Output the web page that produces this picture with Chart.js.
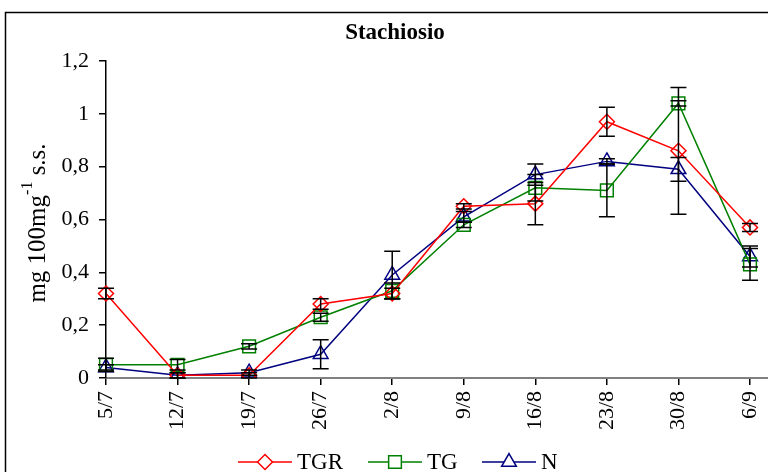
<!DOCTYPE html>
<html>
<head>
<meta charset="utf-8">
<script src="https://cdn.jsdelivr.net/npm/chart.js@4.4.1/dist/chart.umd.min.js"></script>
<style>
  html, body { margin: 0; padding: 0; background: #fff; }
  #wrap { position: relative; width: 768px; height: 472px; }
</style>
</head>
<body>
<div id="wrap"><canvas id="stachiosio" width="768" height="472"></canvas></div>
<script>
// date di campionamento
const labels = ['5/7', '12/7', '19/7', '26/7', '2/8', '9/8', '16/8', '23/8', '30/8', '6/9'];

// valori medi (mg 100mg-1 s.s.)
const tgr = [0.32, 0.01, 0.01, 0.28, 0.32, 0.65, 0.66, 0.97, 0.86, 0.57];
const tg  = [0.05, 0.05, 0.12, 0.23, 0.33, 0.58, 0.72, 0.71, 1.04, 0.43];
const n   = [0.04, 0.01, 0.02, 0.09, 0.39, 0.61, 0.77, 0.82, 0.79, 0.46];

// barre d'errore (+/-)
const tgrErr = [0.02, 0.01, 0.01, 0.02, 0.02, 0.01, 0.08, 0.055, 0.24, 0.015];
const tgErr  = [0.025, 0.02, 0.01, 0.015, 0.03, 0.01, 0.05, 0.10, 0.01, 0.06];
const nErr   = [0.01, 0.01, 0.01, 0.055, 0.09, 0.02, 0.04, 0.01, 0.045, 0.04];

const yTicks = [0, 0.2, 0.4, 0.6, 0.8, 1, 1.2];

const serif = '"Liberation Serif", "Times New Roman", serif';

// barre d'errore, cornice, titolo, legenda
const extras = {
    id: 'extras',
    beforeDraw(chart) {
        const c = chart.ctx;
        c.save();
        c.strokeStyle = '#000';
        c.lineWidth = 1.5;
        c.beginPath();
        c.moveTo(5.5, chart.height);
        c.lineTo(5.5, 12.5);
        c.lineTo(chart.width, 12.5);
        c.stroke();
        c.restore();
    },
    afterDatasetsDraw(chart) {
        const c = chart.ctx;
        const yScale = chart.scales.y;
        c.save();
        c.strokeStyle = '#000';
        c.lineWidth = 1.5;
        chart.data.datasets.forEach((ds, i) => {
            const meta = chart.getDatasetMeta(i);
            ds.errors.forEach((e, j) => {
                const x = meta.data[j].x;
                const top = yScale.getPixelForValue(ds.data[j] + e);
                const bot = yScale.getPixelForValue(ds.data[j] - e);
                c.beginPath();
                c.moveTo(x, top); c.lineTo(x, bot);
                c.moveTo(x - 8, top); c.lineTo(x + 8, top);
                c.moveTo(x - 8, bot); c.lineTo(x + 8, bot);
                c.stroke();
            });
        });
        c.restore();
    },
    afterDraw(chart) {
        const c = chart.ctx;
        const area = chart.chartArea;
        c.save();
        // prolungamento asse x
        c.strokeStyle = '#808080';
        c.lineWidth = 2;
        c.beginPath();
        c.moveTo(area.right, area.bottom);
        c.lineTo(chart.width, area.bottom);
        c.stroke();

        // titolo
        c.fillStyle = '#000';
        c.font = 'bold 23px ' + serif;
        c.textAlign = 'center';
        c.textBaseline = 'middle';
        c.fillText('Stachiosio', 395, 33);

        // titolo asse y con apice
        c.save();
        c.translate(38, 223);
        c.rotate(-Math.PI / 2);
        const a = 'mg 100mg', sup = '-1', b = ' s.s.';
        c.font = '25px ' + serif;
        const wa = c.measureText(a).width, wb = c.measureText(b).width;
        c.font = '16px ' + serif;
        const ws = c.measureText(sup).width;
        const x0 = -(wa + ws + wb) / 2;
        c.textAlign = 'left';
        c.font = '25px ' + serif;
        c.fillText(a, x0, 0);
        c.font = '16px ' + serif;
        c.fillText(sup, x0 + wa, -10);
        c.font = '25px ' + serif;
        c.fillText(b, x0 + wa + ws, 0);
        c.restore();

        // legenda
        const items = [
            { text: 'TGR', x: 238, ds: chart.data.datasets[0] },
            { text: 'TG',  x: 368, ds: chart.data.datasets[1] },
            { text: 'N',   x: 482, ds: chart.data.datasets[2] }
        ];
        const ly = 462;
        items.forEach(it => {
            c.strokeStyle = it.ds.borderColor;
            c.lineWidth = 1.5;
            c.beginPath();
            c.moveTo(it.x, ly); c.lineTo(it.x + 54, ly);
            c.stroke();
            c.fillStyle = '#fff';
            Chart.helpers.drawPoint(c, {
                pointStyle: it.ds.pointStyle,
                radius: it.ds.pointRadius,
                rotation: 0,
                borderWidth: 1.5
            }, it.x + 27, ly);
            c.fillStyle = '#000';
            c.font = '23px ' + serif;
            c.textAlign = 'left';
            c.fillText(it.text, it.x + 59, ly + 1);
        });
        c.restore();
    }
};

new Chart(document.getElementById('stachiosio').getContext('2d'), {
    type: 'line',
    data: {
        labels: labels,
        datasets: [
            {
                label: 'TGR', data: tgr, errors: tgrErr,
                borderColor: '#ff0000', backgroundColor: 'transparent',
                pointStyle: 'rectRot', pointRadius: 7.5, borderWidth: 1.5, pointBorderWidth: 1.5
            },
            {
                label: 'TG', data: tg, errors: tgErr,
                borderColor: '#008000', backgroundColor: 'transparent',
                pointStyle: 'rect', pointRadius: 9, borderWidth: 1.5, pointBorderWidth: 1.5
            },
            {
                label: 'N', data: n, errors: nErr,
                borderColor: '#000080', backgroundColor: 'transparent',
                pointStyle: 'triangle', pointRadius: 8.5, borderWidth: 1.5, pointBorderWidth: 1.5
            }
        ]
    },
    options: {
        responsive: false,
        animation: false,
        layout: { padding: { left: 0, top: 61, right: 18, bottom: 0 } },
        plugins: {
            legend: { display: false },
            title: { display: false },
            tooltip: { enabled: false }
        },
        scales: {
            x: {
                offset: false,
                afterFit: s => { s.height = 94; s.paddingLeft = 0; s.paddingRight = 0; },
                grid: { drawOnChartArea: false, color: '#000', tickLength: 7, lineWidth: 1.5 },
                border: { color: '#808080', width: 2 },
                ticks: {
                    color: '#000', font: { family: serif, size: 22 },
                    maxRotation: 90, minRotation: 90, autoSkip: false, padding: 6
                }
            },
            y: {
                min: 0, max: 1.2,
                afterFit: s => { s.width = 106; s.paddingTop = 0; s.paddingBottom = 0; },
                afterBuildTicks: s => { s.ticks = yTicks.map(v => ({ value: v })); },
                grid: { drawOnChartArea: false, color: '#000', tickLength: 7, lineWidth: 1.5 },
                border: { color: '#000', width: 1.5 },
                ticks: {
                    color: '#000', font: { family: serif, size: 22 }, padding: 10,
                    callback: v => String(Math.round(v * 10) / 10).replace('.', ',')
                }
            }
        }
    },
    plugins: [extras]
});
</script>
</body>
</html>
